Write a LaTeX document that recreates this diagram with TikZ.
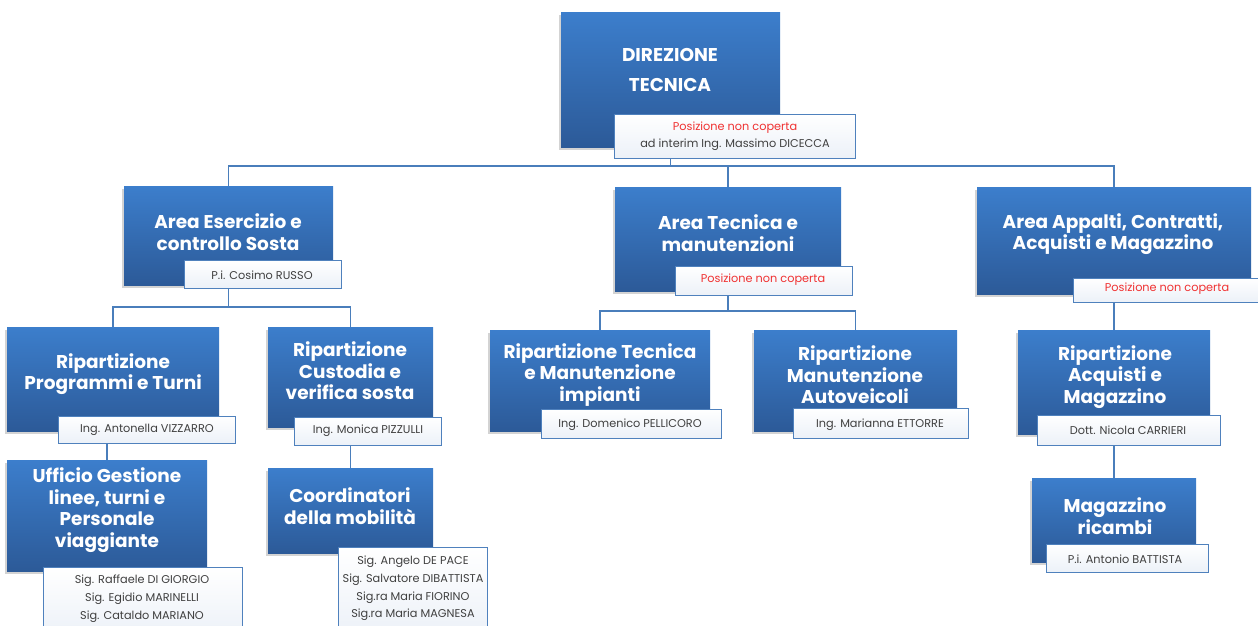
\documentclass[tikz,border=0pt]{standalone}
\usepackage{fontspec}
\setmainfont{Poppins}
\usetikzlibrary{shadows,backgrounds}
\definecolor{bltop}{RGB}{60,126,204}
\definecolor{blbot}{RGB}{44,90,152}
\definecolor{lbl}{RGB}{79,129,189}
\definecolor{lblbg}{RGB}{236,241,248}
\definecolor{linkc}{RGB}{74,126,187}
\definecolor{nmgray}{RGB}{64,64,64}
\definecolor{vacred}{RGB}{240,50,50}
\newcommand{\ttlfont}{\bfseries\fontsize{18.5}{21.5}\selectfont}
\newcommand{\nmfont}{\fontsize{11.3}{17.7}\selectfont}
\tikzset{
  bluebox/.style={rectangle, inner sep=0pt, outer sep=0pt, top color=bltop, bottom color=blbot,
    drop shadow={shadow xshift=-2pt, shadow yshift=-3pt, opacity=0.35}, anchor=north west},
  namebox/.style={rectangle, draw=lbl, line width=1pt, top color=white, bottom color=lblbg,
    inner sep=0pt, outer sep=0pt, anchor=north west},
  ttl/.style={text=white, font=\ttlfont, align=center, inner sep=0pt},
  nm/.style={text=nmgray, font=\nmfont, align=center, inner sep=0pt},
  vac/.style={text=vacred, font=\nmfont, align=center, inner sep=0pt},
  link/.style={draw=linkc, line width=1.3pt},
}
\begin{document}
\begin{tikzpicture}[x=1pt,y=-1pt]
\useasboundingbox (0,0) rectangle (1258,625);
% blue boxes
\node[bluebox, minimum width=219pt, minimum height=135pt] (dir) at (561,12) {};
\node[bluebox, minimum width=209pt, minimum height=99pt] (aes) at (124,186) {};
\node[bluebox, minimum width=226pt, minimum height=104pt] (atm) at (615,187) {};
\node[bluebox, minimum width=274pt, minimum height=107pt] (aap) at (977,187) {};
\node[bluebox, minimum width=212pt, minimum height=104pt] (rpt) at (7,327) {};
\node[bluebox, minimum width=165pt, minimum height=100pt] (rcs) at (268,327) {};
\node[bluebox, minimum width=220pt, minimum height=101pt] (rtm) at (490,330) {};
\node[bluebox, minimum width=203pt, minimum height=101pt] (rma) at (754,330) {};
\node[bluebox, minimum width=192pt, minimum height=104pt] (rac) at (1018,330) {};
\node[bluebox, minimum width=200pt, minimum height=111pt] (ufg) at (7,460) {};
\node[bluebox, minimum width=165pt, minimum height=85pt] (coo) at (268,468) {};
\node[bluebox, minimum width=164pt, minimum height=84pt] (mag) at (1032,478) {};
% connectors
\begin{scope}[on background layer]
\draw[link] (dir.south) -- ++(0,19) -| (aes.north);
\draw[link] (dir.south) -- ++(0,19) -| (atm.north);
\draw[link] (dir.south) -- ++(0,19) -| (aap.north);
\draw[link] (aes.south) -- ++(0,22) -| (rpt.north);
\draw[link] (aes.south) -- ++(0,22) -| (rcs.north);
\draw[link] (atm.south) -- ++(0,20) -| (rtm.north);
\draw[link] (atm.south) -- ++(0,20) -| (rma.north);
\draw[link] (aap.south) -- (rac.north);
\draw[link] (ufg.north |- rpt.south) -- (ufg.north);
\draw[link] (rcs.south) -- (coo.north);
\draw[link] (rac.south) -- (mag.north);
\end{scope}
% titles
\node[ttl] (tdir) at (670,70) {DIREZIONE\\[8pt]TECNICA};
\node[ttl] (taes) at (228,232) {Area Esercizio e\\controllo Sosta};
\node[ttl] (tatm) at (728,233) {Area Tecnica e\\manutenzioni};
\node[ttl] (taap) at (1113,234) {Area Appalti, Contratti,\\Acquisti e Magazzino};
\node[ttl] (trpt) at (113,374) {Ripartizione\\Programmi e Turni};
\node[ttl] (trcs) at (350,371) {Ripartizione\\Custodia e\\verifica sosta};
\node[ttl] (trtm) at (600,375) {Ripartizione Tecnica\\e Manutenzione\\impianti};
\node[ttl] (trma) at (855,375) {Ripartizione\\Manutenzione\\Autoveicoli};
\node[ttl] (trac) at (1115,377) {Ripartizione\\Acquisti e\\Magazzino};
\node[ttl] (tufg) at (107,510) {Ufficio Gestione\\linee, turni e\\Personale\\viaggiante};
\node[ttl] (tcoo) at (350,506) {Coordinatori\\della mobilità};
\node[ttl] (tmag) at (1115,516) {Magazzino\\ricambi};
% name boxes
\node[namebox, minimum width=241pt, minimum height=44pt] (ldir) at (614,114) {};
\node[namebox, minimum width=157pt, minimum height=28pt] (laes) at (184,260) {};
\node[namebox, minimum width=177pt, minimum height=29pt] (latm) at (675,266) {};
\node[namebox, minimum width=189pt, minimum height=24pt] (laap) at (1073,278) {};
\node[namebox, minimum width=177pt, minimum height=27pt] (lrpt) at (58,416) {};
\node[namebox, minimum width=147pt, minimum height=28pt] (lrcs) at (294,417) {};
\node[namebox, minimum width=180pt, minimum height=29pt] (lrtm) at (541,409) {};
\node[namebox, minimum width=175pt, minimum height=30pt] (lrma) at (793,408) {};
\node[namebox, minimum width=183pt, minimum height=30pt] (lrac) at (1037,415) {};
\node[namebox, minimum width=199pt, minimum height=70pt] (lufg) at (43,567) {};
\node[namebox, minimum width=149pt, minimum height=90pt] (lcoo) at (338,547) {};
\node[namebox, minimum width=162pt, minimum height=28pt] (lmag) at (1046,544) {};
% names
\node[vac] (ndir1) at (735,128) {Posizione non coperta};
\node[nm] (ndir2) at (735,145) {ad interim Ing. Massimo DICECCA};
\node[nm] (naes) at (262,275) {P.i. Cosimo RUSSO};
\node[vac] (natm) at (763,280) {Posizione non coperta};
\node[vac] (naap) at (1167,289) {Posizione non coperta};
\node[nm] (nrpt) at (147,430) {Ing. Antonella VIZZARRO};
\node[nm] (nrcs) at (368,431) {Ing. Monica PIZZULLI};
\node[nm] (nrtm) at (630,425) {Ing. Domenico PELLICORO};
\node[nm] (nrma) at (880,425) {Ing. Marianna ETTORRE};
\node[nm] (nrac) at (1128,430) {Dott. Nicola CARRIERI};
\node[nm, anchor=north] (nufg) at (142,575) {Sig. Raffaele DI GIORGIO\\Sig. Egidio MARINELLI\\Sig. Cataldo MARIANO};
\node[nm, anchor=north] (ncoo) at (413,556) {Sig. Angelo DE PACE\\Sig. Salvatore DIBATTISTA\\Sig.ra Maria FIORINO\\Sig.ra Maria MAGNESA};
\node[nm] (nmag) at (1125,559) {P.i. Antonio BATTISTA};
\end{tikzpicture}
\end{document}
